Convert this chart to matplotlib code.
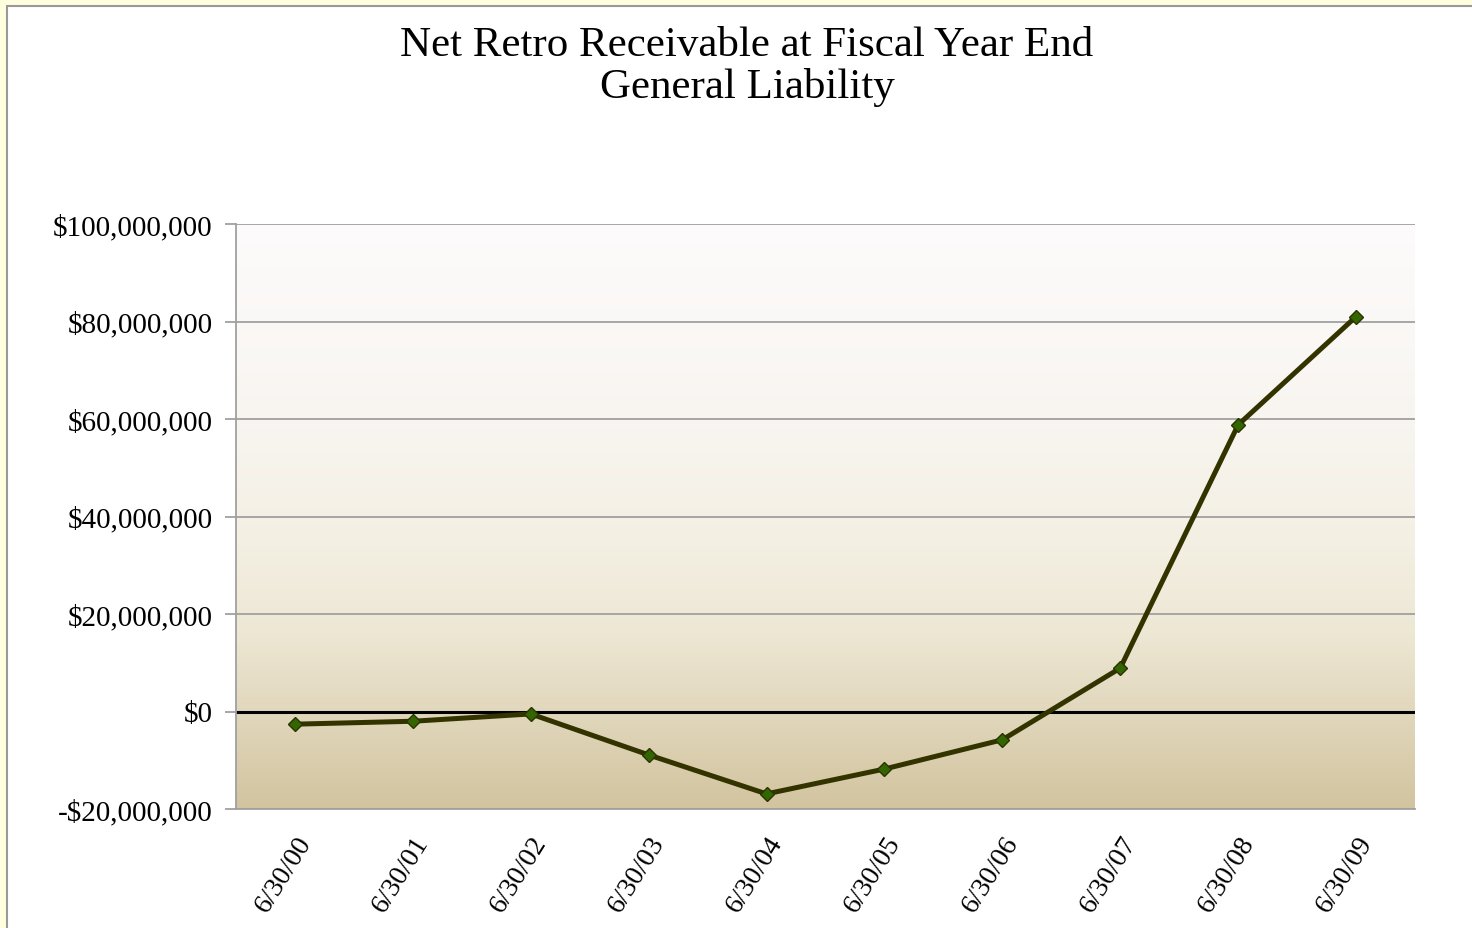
import matplotlib
matplotlib.use("Agg")
import matplotlib.pyplot as plt
import numpy as np
from matplotlib.colors import LinearSegmentedColormap
from matplotlib.patches import Rectangle
from matplotlib.ticker import FuncFormatter

categories = ["6/30/00", "6/30/01", "6/30/02", "6/30/03", "6/30/04",
              "6/30/05", "6/30/06", "6/30/07", "6/30/08", "6/30/09"]
values = [-2.6e6, -2.0e6, -0.5e6, -8.9e6, -16.9e6,
          -11.8e6, -5.8e6, 8.9e6, 58.8e6, 81.0e6]
yticks = [-20e6, 0, 20e6, 40e6, 60e6, 80e6, 100e6]
title = "Net Retro Receivable at Fiscal Year End\nGeneral Liability"

plt.rcParams['font.family'] = ['Liberation Serif', 'DejaVu Serif']

fig = plt.figure(figsize=(14.72, 9.29), dpi=100)
fig.patch.set_facecolor('#FFFFDD')
panel = Rectangle((7/1472, -0.01), 1.02, 1 - 7/929 + 0.01, transform=fig.transFigure,
                  facecolor='white', edgecolor='#999999', linewidth=1.5, zorder=-5)
fig.patches.append(panel)

ax = fig.add_axes([236/1472, 1 - 810/929, (1415 - 236)/1472, (810 - 225)/929])
ax.set_zorder(2)
ax.set_facecolor('none')

n = len(categories)
x = np.arange(n)
ax.set_xlim(-0.5, n - 0.5)
ax.set_ylim(yticks[0], yticks[-1])

cmap = LinearSegmentedColormap.from_list('bg', [
    (0.0, '#FDFBFB'), (0.35, '#F8F5F0'), (0.55, '#F3EFE2'),
    (0.70, '#EDE7D4'), (0.82, '#E2D9BF'), (1.0, '#D2C49F')])
grad = np.linspace(0, 1, 256).reshape(-1, 1)
ax.imshow(grad, aspect='auto', cmap=cmap, extent=[-0.5, n - 0.5, yticks[0], yticks[-1]],
          origin='upper', zorder=0)

for t in yticks:
    if t != 0:
        ax.axhline(t, color='#A0A0A0', linewidth=1.3, zorder=1)
ax.axhline(0, color='black', linewidth=2.2, zorder=2)

ax.plot(x, values, color='#333300', linewidth=3.6, zorder=3,
        marker='D', markersize=7.5, markerfacecolor='#336600',
        markeredgecolor='#2A3300', markeredgewidth=1.0)

for s in ['top', 'right']:
    ax.spines[s].set_visible(False)
ax.spines['left'].set_color('#A0A0A0')
ax.spines['left'].set_linewidth(1.3)
ax.spines['bottom'].set_color('#A0A0A0')
ax.spines['bottom'].set_linewidth(1.3)

ax.set_yticks(yticks)
ax.yaxis.set_major_formatter(FuncFormatter(
    lambda v, p: ('-$' if v < 0 else '$') + f"{abs(v):,.0f}"))
ax.tick_params(axis='y', length=8, width=1.3, color='#A0A0A0', labelsize=21, pad=9)
ax.set_xticks(x)
ax.set_xticklabels(categories, rotation=58, ha='right', va='top',
                   rotation_mode='anchor', fontsize=20)
ax.tick_params(axis='x', length=0, pad=16)

fig.text(0.5075, 1 - 27/929, title, ha='center', va='top', fontsize=31, linespacing=1.08)

fig.savefig('out.png', dpi=100)
